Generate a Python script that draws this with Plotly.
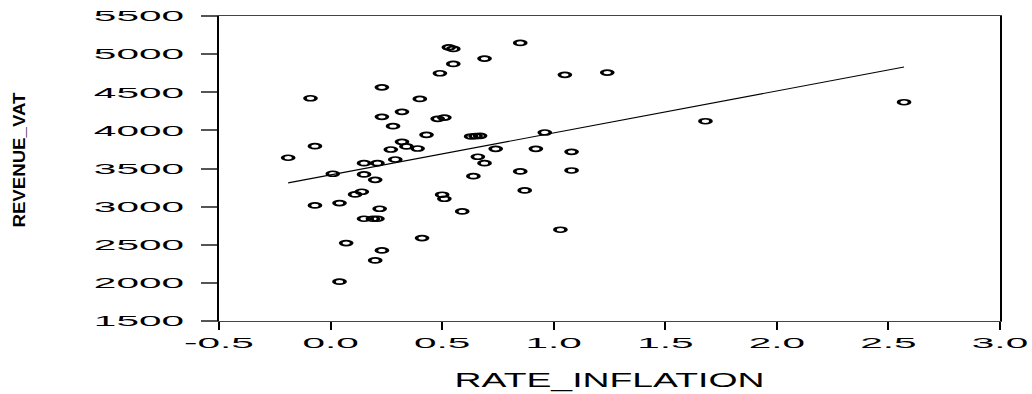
import numpy as np
import plotly.graph_objects as go

# ---- data ----
rate_inflation = [-0.19, -0.09, -0.07, -0.07, 0.01, 0.04, 0.04, 0.07, 0.11, 0.14,
                  0.15, 0.15, 0.15, 0.19, 0.21, 0.20, 0.20, 0.21, 0.22, 0.23,
                  0.23, 0.23, 0.27, 0.28, 0.29, 0.32, 0.32, 0.34, 0.39, 0.40,
                  0.41, 0.43, 0.48, 0.49, 0.50, 0.51, 0.51, 0.53, 0.55, 0.55,
                  0.59, 0.63, 0.65, 0.67, 0.64, 0.66, 0.69, 0.69, 0.74, 0.85,
                  0.85, 0.87, 0.92, 0.96, 1.03, 1.05, 1.08, 1.08, 1.24, 1.68,
                  2.57]
revenue_vat = [3641, 4421, 3793, 3016, 3431, 3046, 2016, 2522, 3160, 3195,
               3570, 3422, 2841, 2841, 2841, 3352, 2295, 3570, 2972, 4565,
               4178, 2426, 3749, 4055, 3618, 4243, 3850, 3789, 3762, 4413,
               2587, 3942, 4151, 4749, 3156, 4168, 3103, 5089, 5068, 4872,
               2937, 3920, 3925, 3929, 3400, 3654, 4941, 3570, 3758, 5147,
               3461, 3212, 3758, 3972, 2697, 4728, 3719, 3474, 4758, 4120,
               4369]

x_tickvals = [-0.5, 0.0, 0.5, 1.0, 1.5, 2.0, 2.5, 3.0]
x_ticktext = ["-0.5", "0.0", "0.5", "1.0", "1.5", "2.0", "2.5", "3.0"]
y_tickvals = [1500, 2000, 2500, 3000, 3500, 4000, 4500, 5000, 5500]
y_ticktext = [str(v) for v in y_tickvals]

x_title = "RATE_INFLATION"
y_title = "REVENUE_VAT"

# ---- fitted regression line (OLS on the data) ----
xa = np.array(rate_inflation)
ya = np.array(revenue_vat)
slope, intercept = np.polyfit(xa, ya, 1)
fit_x = [float(xa.min()), float(xa.max())]
fit_y = [intercept + slope * v for v in fit_x]

FONT = "Liberation Sans, Arial, sans-serif"

fig = go.Figure()
fig.add_trace(go.Scatter(
    x=rate_inflation, y=revenue_vat, mode="markers",
    marker=dict(symbol="circle-open", size=5, color="black",
                line=dict(width=1.7, color="black")),
    showlegend=False, hoverinfo="x+y"))
fig.add_trace(go.Scatter(
    x=fit_x, y=fit_y, mode="lines",
    line=dict(color="black", width=1.1),
    showlegend=False, hoverinfo="skip"))

fig.update_layout(
    width=1032, height=394,
    margin=dict(l=219, r=32, t=16, b=73),
    paper_bgcolor="white", plot_bgcolor="white",
    font=dict(family=FONT, color="black", size=15),
    xaxis=dict(
        range=[-0.5, 3.0], tickmode="array", tickvals=x_tickvals, ticktext=x_ticktext,
        showgrid=False, zeroline=False, automargin=False,
        showline=True, linecolor="#444", linewidth=1.2, mirror=True,
        ticks="outside", ticklen=8, tickwidth=2, tickcolor="black",
        tickfont=dict(family=FONT, size=15, color="black"),
        title=dict(text=x_title, font=dict(family=FONT, size=21, color="black"), standoff=22),
    ),
    yaxis=dict(
        range=[1500, 5500], tickmode="array", tickvals=y_tickvals, ticktext=y_ticktext,
        showgrid=False, zeroline=False, automargin=False,
        showline=True, linecolor="black", linewidth=2, mirror=True,
        ticks="outside", ticklen=16, tickwidth=1.5, tickcolor="#555",
        ticklabelstandoff=14,
        tickfont=dict(family=FONT, size=15, color="black"),
    ),
    annotations=[dict(
        text="<b>" + y_title + "</b>", xref="paper", yref="paper",
        x=(19 - 219) / 781, y=1 - (160 - 16) / 305,
        showarrow=False, textangle=-90, xanchor="center", yanchor="middle",
        font=dict(family=FONT, size=16, color="black"))],
)

post_js = """
(function(){
  document.documentElement.style.margin = '0';
  document.body.style.margin = '0';
  document.body.style.padding = '0';
  var gd = document.getElementById('{plot_id}');
  function stretch(el, factor, fixedLen){
    if (!el || el.getAttribute('data-st')) return;
    var w = el.getComputedTextLength();
    if (!w) return;
    el.setAttribute('textLength', fixedLen ? fixedLen : w * factor);
    el.setAttribute('lengthAdjust', 'spacingAndGlyphs');
    el.setAttribute('data-st', '1');
  }
  function fix(){
    gd.querySelectorAll('.xtick text, .ytick text').forEach(function(t){ stretch(t, 2.7); });
    gd.querySelectorAll('.g-xtitle text').forEach(function(t){ stretch(t, 1, 310); });
    gd.querySelectorAll('.annotation-text').forEach(function(t){ stretch(t, 1, 135); });
    var tr = gd.querySelectorAll('.scatterlayer .trace');
    if (tr.length) {
      tr[0].querySelectorAll('.points path').forEach(function(p){
        if (p.getAttribute('data-st')) return;
        var t = p.getAttribute('transform') || '';
        p.setAttribute('transform', t + ' scale(2.2,1)');
        p.setAttribute('data-st', '1');
      });
    }
  }
  fix();
  setTimeout(fix, 50);
  if (gd.on) gd.on('plotly_afterplot', fix);
})();
"""

fig.write_html("out.html", post_script=post_js, config={"displayModeBar": False})
